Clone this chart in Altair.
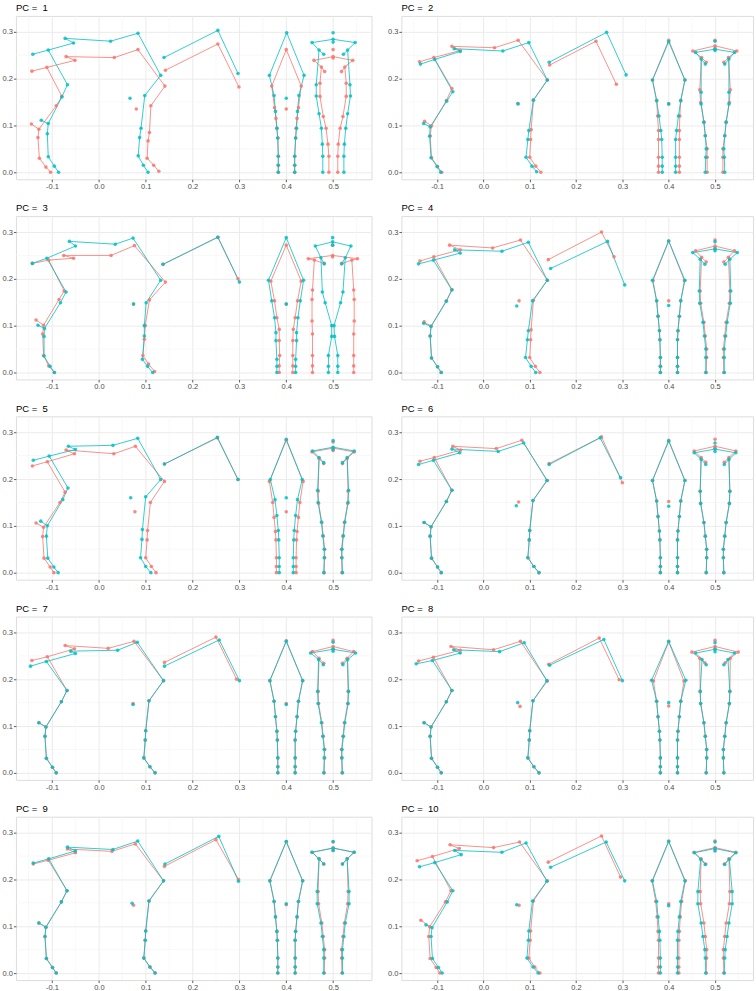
import altair as alt
import pandas as pd

RED = "#F8766D"
TEAL = "#00BFC4"

# Landmark order, side view (25 points):
# nose, neck, ear, poll, back, hip, stifle, hock, 5 hind-leg points,
# elbow, 6 fore-leg points, dewclaw, loose dot, 3 tail points
SIDE_PATHS = [
    [0, 1, 2, 3, 4, 5, 6, 7, 8, 9, 10, 11, 12],
    [1, 13, 14, 15, 16, 17, 18, 19],
    [15, 20],
    [22, 23, 24],
]
# Front view (18 points): apex, left shoulder, 7 left-leg points,
# right shoulder, 7 right-leg points, loose dot
FRONT_PATHS = [[8, 7, 6, 5, 4, 3, 2, 1, 0, 9, 10, 11, 12, 13, 14, 15, 16]]
# Rear view (23 points): top dot, apex, lower dot, left outer/mid/inner,
# right outer/mid/inner, 7 left-leg points, 7 right-leg points
REAR_PATHS = [
    [3, 1, 6],
    [3, 4, 5],
    [6, 7, 8],
    [4, 9, 10, 11, 12, 13, 14, 15],
    [7, 16, 17, 18, 19, 20, 21, 22],
]

# ---- PC 1 ----
pc1_neg_side = [-0.143, 0.216, -0.111, 0.224, -0.051, 0.239, -0.070, 0.247, 0.033, 0.245, 0.0835, 0.262,
                0.141, 0.184, 0.111, 0.142, 0.108, 0.085, 0.105, 0.067, 0.103, 0.030, 0.117, 0.015, 0.128, 0.002,
                -0.079, 0.162, -0.091, 0.142, -0.128, 0.092, -0.130, 0.074, -0.127, 0.030, -0.113, 0.011,
                -0.103, 0.0, -0.144, 0.103, 0.080, 0.135, 0.142, 0.218, 0.254, 0.274, 0.299, 0.182]
pc1_pos_side = [-0.141, 0.252, -0.108, 0.261, -0.054, 0.276, -0.072, 0.286, 0.025, 0.280, 0.0835, 0.297,
                0.132, 0.207, 0.098, 0.164, 0.090, 0.094, 0.087, 0.074, 0.084, 0.035, 0.095, 0.015, 0.105, 0.0,
                -0.067, 0.187, -0.079, 0.161, -0.108, 0.104, -0.110, 0.082, -0.108, 0.033, -0.095, 0.013,
                -0.086, 0.0, -0.123, 0.111, 0.0665, 0.158, 0.139, 0.245, 0.254, 0.303, 0.297, 0.211]
pc1_neg_front = [0.400, 0.262, 0.369, 0.184, 0.375, 0.138, 0.378, 0.115, 0.380, 0.094, 0.382, 0.073, 0.383, 0.034,
                 0.383, 0.015, 0.383, 0.0, 0.432, 0.184, 0.426, 0.138, 0.423, 0.115, 0.421, 0.094, 0.420, 0.073,
                 0.418, 0.034, 0.418, 0.015, 0.418, 0.0, 0.400, 0.135]
pc1_pos_front = [0.401, 0.298, 0.364, 0.207, 0.374, 0.164, 0.377, 0.130, 0.380, 0.094, 0.382, 0.073, 0.383, 0.034,
                 0.383, 0.015, 0.383, 0.0, 0.438, 0.207, 0.427, 0.164, 0.424, 0.130, 0.422, 0.094, 0.420, 0.073,
                 0.418, 0.034, 0.418, 0.015, 0.418, 0.0, 0.400, 0.158]
pc1_neg_rear = [0.500, 0.262, 0.500, 0.247, 0.500, 0.244, 0.459, 0.239, 0.475, 0.225, 0.482, 0.215, 0.542, 0.239,
                0.525, 0.225, 0.518, 0.215, 0.472, 0.190, 0.472, 0.162, 0.479, 0.119, 0.485, 0.094, 0.489, 0.060,
                0.491, 0.034, 0.491, 0.0, 0.528, 0.190, 0.528, 0.162, 0.521, 0.119, 0.515, 0.094, 0.511, 0.060,
                0.510, 0.034, 0.510, 0.0]
pc1_pos_rear = [0.500, 0.298, 0.500, 0.284, 0.500, 0.278, 0.455, 0.277, 0.470, 0.261, 0.480, 0.252, 0.547, 0.277,
                0.531, 0.261, 0.522, 0.252, 0.464, 0.187, 0.464, 0.163, 0.470, 0.125, 0.475, 0.094, 0.477, 0.060,
                0.478, 0.034, 0.478, 0.0, 0.536, 0.187, 0.537, 0.163, 0.531, 0.125, 0.527, 0.094, 0.524, 0.060,
                0.523, 0.034, 0.523, 0.0]

# ---- PC 2 ----
pc2_neg_side = [-0.138, 0.236, -0.107, 0.245, -0.050, 0.260, -0.068, 0.269, 0.024, 0.266, 0.075, 0.282,
                0.138, 0.197, 0.108, 0.154, 0.103, 0.091, 0.102, 0.070, 0.100, 0.032, 0.113, 0.013, 0.124, 0.0,
                -0.068, 0.179, -0.080, 0.153, -0.112, 0.099, -0.115, 0.078, -0.112, 0.031, -0.099, 0.012,
                -0.090, 0.0, -0.127, 0.109, 0.074, 0.147, 0.143, 0.229, 0.243, 0.280, 0.287, 0.188]
pc2_pos_side = [-0.136, 0.231, -0.105, 0.241, -0.050, 0.258, -0.063, 0.264, 0.042, 0.259, 0.098, 0.277,
                0.138, 0.197, 0.108, 0.154, 0.098, 0.089, 0.096, 0.070, 0.092, 0.032, 0.105, 0.013, 0.115, 0.001,
                -0.066, 0.172, -0.079, 0.152, -0.115, 0.097, -0.116, 0.077, -0.113, 0.031, -0.100, 0.012,
                -0.092, 0.0, -0.129, 0.104, 0.075, 0.146, 0.142, 0.235, 0.266, 0.299, 0.308, 0.208]
pc2_neg_front = [0.400, 0.282, 0.365, 0.197, 0.374, 0.153, 0.376, 0.120, 0.378, 0.089, 0.378, 0.070, 0.378, 0.032,
                 0.378, 0.013, 0.378, 0.0, 0.435, 0.197, 0.426, 0.153, 0.424, 0.120, 0.423, 0.089, 0.423, 0.070,
                 0.423, 0.032, 0.423, 0.013, 0.423, 0.0, 0.400, 0.146]
pc2_pos_front = [0.400, 0.279, 0.365, 0.197, 0.374, 0.153, 0.379, 0.120, 0.383, 0.089, 0.385, 0.070, 0.386, 0.032,
                 0.386, 0.013, 0.386, 0.0, 0.435, 0.197, 0.426, 0.153, 0.421, 0.120, 0.417, 0.089, 0.415, 0.070,
                 0.415, 0.032, 0.415, 0.013, 0.415, 0.0, 0.400, 0.146]
pc2_neg_rear = [0.500, 0.282, 0.500, 0.270, 0.500, 0.265, 0.452, 0.259, 0.471, 0.245, 0.481, 0.235, 0.547, 0.259,
                0.529, 0.245, 0.519, 0.235, 0.467, 0.176, 0.469, 0.149, 0.476, 0.107, 0.479, 0.078, 0.483, 0.050,
                0.483, 0.032, 0.483, 0.0, 0.533, 0.176, 0.531, 0.149, 0.524, 0.107, 0.521, 0.078, 0.517, 0.050,
                0.517, 0.032, 0.517, 0.0]
pc2_pos_rear = [0.500, 0.280, 0.500, 0.263, 0.500, 0.260, 0.458, 0.256, 0.470, 0.242, 0.479, 0.231, 0.542, 0.256,
                0.530, 0.242, 0.521, 0.231, 0.470, 0.171, 0.470, 0.146, 0.476, 0.107, 0.479, 0.078, 0.481, 0.050,
                0.480, 0.032, 0.479, 0.0, 0.530, 0.171, 0.530, 0.146, 0.524, 0.107, 0.521, 0.078, 0.519, 0.050,
                0.520, 0.032, 0.521, 0.0]

# ---- PC 3 ----
pc3_neg_side = [-0.142, 0.233, -0.107, 0.240, -0.054, 0.244, -0.075, 0.250, 0.026, 0.250, 0.076, 0.271,
                0.142, 0.193, 0.108, 0.155, 0.099, 0.100, 0.097, 0.071, 0.094, 0.036, 0.106, 0.018, 0.119, 0.002,
                -0.074, 0.174, -0.085, 0.156, -0.118, 0.101, -0.120, 0.082, -0.118, 0.036, -0.107, 0.014,
                -0.095, 0.0, -0.134, 0.112, 0.074, 0.146, 0.137, 0.231, 0.254, 0.289, 0.297, 0.200]
pc3_pos_side = [-0.142, 0.233, -0.111, 0.244, -0.050, 0.270, -0.063, 0.280, 0.035, 0.274, 0.073, 0.287,
                0.132, 0.197, 0.101, 0.149, 0.097, 0.100, 0.097, 0.078, 0.093, 0.028, 0.104, 0.013, 0.115, 0.0,
                -0.070, 0.172, -0.082, 0.149, -0.116, 0.094, -0.117, 0.077, -0.117, 0.035, -0.104, 0.013,
                -0.095, 0.0, -0.130, 0.101, 0.074, 0.146, 0.137, 0.231, 0.254, 0.289, 0.300, 0.193]
pc3_neg_front = [0.400, 0.272, 0.367, 0.195, 0.375, 0.153, 0.380, 0.117, 0.385, 0.092, 0.385, 0.068, 0.386, 0.036,
                 0.385, 0.014, 0.385, 0.0, 0.432, 0.195, 0.424, 0.153, 0.419, 0.117, 0.415, 0.092, 0.414, 0.068,
                 0.414, 0.036, 0.414, 0.014, 0.414, 0.0, 0.400, 0.146]
pc3_pos_front = [0.400, 0.288, 0.362, 0.197, 0.369, 0.153, 0.375, 0.117, 0.378, 0.085, 0.378, 0.068, 0.380, 0.028,
                 0.380, 0.013, 0.380, 0.0, 0.437, 0.197, 0.430, 0.153, 0.425, 0.117, 0.422, 0.085, 0.422, 0.068,
                 0.420, 0.028, 0.420, 0.013, 0.420, 0.0, 0.400, 0.146]
pc3_neg_rear = [0.499, 0.272, 0.499, 0.250, 0.499, 0.247, 0.447, 0.243, 0.460, 0.240, 0.481, 0.233, 0.552, 0.243,
                0.540, 0.240, 0.519, 0.233, 0.456, 0.176, 0.455, 0.156, 0.455, 0.110, 0.456, 0.082, 0.456, 0.036,
                0.456, 0.014, 0.456, 0.0, 0.544, 0.176, 0.545, 0.156, 0.545, 0.110, 0.544, 0.082, 0.544, 0.036,
                0.544, 0.014, 0.544, 0.0]
pc3_pos_rear = [0.499, 0.288, 0.499, 0.279, 0.499, 0.272, 0.462, 0.270, 0.474, 0.245, 0.481, 0.232, 0.538, 0.270,
                0.526, 0.245, 0.518, 0.232, 0.477, 0.172, 0.483, 0.149, 0.497, 0.100, 0.497, 0.077, 0.490, 0.036,
                0.490, 0.013, 0.490, 0.0, 0.521, 0.172, 0.516, 0.149, 0.502, 0.100, 0.503, 0.077, 0.510, 0.036,
                0.510, 0.013, 0.510, 0.0]

# ---- PC 4 ----
pc4_neg_side = [-0.137, 0.238, -0.107, 0.247, -0.050, 0.262, -0.073, 0.272, 0.020, 0.266, 0.080, 0.283,
                0.138, 0.197, 0.108, 0.154, 0.103, 0.091, 0.102, 0.070, 0.100, 0.032, 0.112, 0.013, 0.122, 0.0,
                -0.068, 0.177, -0.080, 0.153, -0.113, 0.099, -0.115, 0.078, -0.112, 0.031, -0.099, 0.012,
                -0.091, 0.0, -0.128, 0.108, 0.077, 0.153, 0.140, 0.241, 0.255, 0.300, 0.282, 0.247]
pc4_pos_side = [-0.140, 0.232, -0.108, 0.240, -0.050, 0.255, -0.062, 0.262, 0.040, 0.259, 0.097, 0.278,
                0.138, 0.197, 0.106, 0.153, 0.097, 0.089, 0.095, 0.070, 0.091, 0.032, 0.103, 0.013, 0.113, 0.0,
                -0.068, 0.176, -0.080, 0.152, -0.113, 0.098, -0.115, 0.078, -0.112, 0.031, -0.099, 0.012,
                -0.091, 0.0, -0.129, 0.105, 0.072, 0.142, 0.145, 0.222, 0.268, 0.280, 0.305, 0.187]
pc4_neg_front = [0.400, 0.281, 0.366, 0.196, 0.374, 0.153, 0.377, 0.120, 0.380, 0.089, 0.381, 0.070, 0.382, 0.032,
                 0.382, 0.013, 0.382, 0.0, 0.434, 0.196, 0.426, 0.153, 0.423, 0.120, 0.420, 0.089, 0.419, 0.070,
                 0.419, 0.032, 0.419, 0.013, 0.419, 0.0, 0.400, 0.153]
pc4_pos_front = [0.400, 0.281, 0.365, 0.197, 0.374, 0.153, 0.377, 0.120, 0.380, 0.089, 0.381, 0.070, 0.382, 0.032,
                 0.382, 0.013, 0.382, 0.0, 0.435, 0.197, 0.426, 0.153, 0.423, 0.120, 0.420, 0.089, 0.419, 0.070,
                 0.419, 0.032, 0.419, 0.013, 0.419, 0.0, 0.400, 0.143]
pc4_neg_rear = [0.500, 0.283, 0.500, 0.270, 0.500, 0.265, 0.458, 0.260, 0.471, 0.246, 0.481, 0.236, 0.542, 0.260,
                0.529, 0.246, 0.519, 0.236, 0.468, 0.174, 0.469, 0.148, 0.476, 0.107, 0.479, 0.078, 0.482, 0.050,
                0.482, 0.032, 0.481, 0.0, 0.532, 0.174, 0.531, 0.148, 0.524, 0.107, 0.521, 0.078, 0.518, 0.050,
                0.518, 0.032, 0.519, 0.0]
pc4_pos_rear = [0.500, 0.279, 0.500, 0.264, 0.500, 0.260, 0.452, 0.256, 0.468, 0.242, 0.478, 0.231, 0.548, 0.256,
                0.532, 0.242, 0.522, 0.231, 0.466, 0.174, 0.467, 0.148, 0.474, 0.107, 0.477, 0.078, 0.480, 0.050,
                0.480, 0.032, 0.480, 0.0, 0.534, 0.174, 0.533, 0.148, 0.526, 0.107, 0.523, 0.078, 0.520, 0.050,
                0.520, 0.032, 0.520, 0.0]

# ---- PC 5 ----
pc5_neg_side = [-0.142, 0.228, -0.110, 0.237, -0.052, 0.254, -0.070, 0.262, 0.032, 0.254, 0.078, 0.270,
                0.140, 0.195, 0.110, 0.150, 0.104, 0.090, 0.103, 0.070, 0.100, 0.032, 0.112, 0.013, 0.122, 0.0,
                -0.072, 0.172, -0.083, 0.150, -0.118, 0.097, -0.120, 0.077, -0.117, 0.031, -0.104, 0.012,
                -0.096, 0.0, -0.134, 0.106, 0.077, 0.130, 0.140, 0.232, 0.253, 0.288, 0.297, 0.199]
pc5_pos_side = [-0.140, 0.240, -0.106, 0.249, -0.050, 0.263, -0.065, 0.270, 0.030, 0.272, 0.083, 0.287,
                0.132, 0.199, 0.100, 0.162, 0.093, 0.092, 0.092, 0.071, 0.089, 0.032, 0.100, 0.013, 0.111, 0.0,
                -0.066, 0.181, -0.077, 0.156, -0.110, 0.100, -0.112, 0.078, -0.109, 0.031, -0.096, 0.012,
                -0.087, 0.0, -0.124, 0.110, 0.068, 0.160, 0.140, 0.232, 0.253, 0.289, 0.297, 0.199]
pc5_neg_front = [0.400, 0.283, 0.364, 0.195, 0.371, 0.150, 0.374, 0.118, 0.377, 0.088, 0.378, 0.070, 0.379, 0.032,
                 0.379, 0.013, 0.379, 0.0, 0.436, 0.195, 0.429, 0.150, 0.426, 0.118, 0.423, 0.088, 0.422, 0.070,
                 0.421, 0.032, 0.421, 0.013, 0.421, 0.0, 0.400, 0.130]
pc5_pos_front = [0.400, 0.285, 0.366, 0.199, 0.376, 0.156, 0.380, 0.122, 0.383, 0.090, 0.384, 0.070, 0.385, 0.032,
                 0.385, 0.013, 0.385, 0.0, 0.434, 0.199, 0.424, 0.156, 0.420, 0.122, 0.417, 0.090, 0.416, 0.070,
                 0.415, 0.032, 0.415, 0.013, 0.415, 0.0, 0.400, 0.160]
pc5_neg_rear = [0.500, 0.279, 0.500, 0.266, 0.500, 0.261, 0.455, 0.258, 0.470, 0.244, 0.480, 0.233, 0.545, 0.258,
                0.530, 0.244, 0.520, 0.233, 0.468, 0.174, 0.469, 0.148, 0.476, 0.107, 0.479, 0.078, 0.482, 0.050,
                0.482, 0.032, 0.481, 0.0, 0.532, 0.174, 0.531, 0.148, 0.524, 0.107, 0.521, 0.078, 0.518, 0.050,
                0.518, 0.032, 0.519, 0.0]
pc5_pos_rear = [0.500, 0.282, 0.500, 0.268, 0.500, 0.263, 0.456, 0.260, 0.470, 0.246, 0.480, 0.235, 0.545, 0.260,
                0.530, 0.246, 0.520, 0.235, 0.467, 0.176, 0.468, 0.150, 0.475, 0.108, 0.478, 0.079, 0.481, 0.050,
                0.481, 0.032, 0.480, 0.0, 0.533, 0.176, 0.532, 0.150, 0.525, 0.108, 0.522, 0.079, 0.519, 0.050,
                0.519, 0.032, 0.520, 0.0]

# ---- PC 6 ----
pc6_neg_side = [-0.137, 0.238, -0.106, 0.246, -0.049, 0.262, -0.066, 0.270, 0.028, 0.265, 0.083, 0.283,
                0.138, 0.197, 0.107, 0.154, 0.100, 0.090, 0.099, 0.070, 0.096, 0.032, 0.109, 0.013, 0.120, 0.0,
                -0.068, 0.176, -0.080, 0.152, -0.113, 0.098, -0.115, 0.078, -0.112, 0.031, -0.099, 0.012,
                -0.091, 0.0, -0.128, 0.107, 0.076, 0.151, 0.142, 0.233, 0.255, 0.290, 0.300, 0.192]
pc6_pos_side = [-0.140, 0.231, -0.108, 0.240, -0.051, 0.256, -0.068, 0.264, 0.032, 0.259, 0.087, 0.277,
                0.137, 0.197, 0.107, 0.154, 0.100, 0.090, 0.099, 0.070, 0.096, 0.032, 0.109, 0.013, 0.120, 0.0,
                -0.068, 0.176, -0.080, 0.152, -0.113, 0.098, -0.115, 0.078, -0.112, 0.031, -0.099, 0.012,
                -0.091, 0.0, -0.128, 0.107, 0.071, 0.143, 0.142, 0.231, 0.252, 0.288, 0.296, 0.203]
pc6_neg_front = [0.400, 0.283, 0.365, 0.197, 0.374, 0.153, 0.377, 0.120, 0.380, 0.089, 0.381, 0.070, 0.382, 0.032,
                 0.382, 0.013, 0.382, 0.0, 0.435, 0.197, 0.426, 0.153, 0.423, 0.120, 0.420, 0.089, 0.419, 0.070,
                 0.419, 0.032, 0.419, 0.013, 0.419, 0.0, 0.400, 0.152]
pc6_pos_front = [0.400, 0.281, 0.365, 0.197, 0.374, 0.153, 0.377, 0.120, 0.380, 0.089, 0.381, 0.070, 0.382, 0.032,
                 0.382, 0.013, 0.382, 0.0, 0.435, 0.197, 0.426, 0.153, 0.423, 0.120, 0.420, 0.089, 0.419, 0.070,
                 0.419, 0.032, 0.419, 0.013, 0.419, 0.0, 0.400, 0.142]
pc6_neg_rear = [0.500, 0.285, 0.500, 0.270, 0.500, 0.266, 0.455, 0.260, 0.470, 0.246, 0.480, 0.236, 0.545, 0.260,
                0.530, 0.246, 0.520, 0.236, 0.468, 0.174, 0.469, 0.148, 0.476, 0.107, 0.479, 0.078, 0.482, 0.050,
                0.482, 0.032, 0.481, 0.0, 0.532, 0.174, 0.531, 0.148, 0.524, 0.107, 0.521, 0.078, 0.518, 0.050,
                0.518, 0.032, 0.519, 0.0]
pc6_pos_rear = [0.500, 0.277, 0.500, 0.264, 0.500, 0.259, 0.455, 0.256, 0.470, 0.242, 0.480, 0.231, 0.545, 0.256,
                0.530, 0.242, 0.520, 0.231, 0.468, 0.174, 0.469, 0.148, 0.476, 0.107, 0.479, 0.078, 0.482, 0.050,
                0.482, 0.032, 0.481, 0.0, 0.532, 0.174, 0.531, 0.148, 0.524, 0.107, 0.521, 0.078, 0.518, 0.050,
                0.518, 0.032, 0.519, 0.0]

# ---- PC 7 ----
pc7_neg_side = [-0.143, 0.240, -0.110, 0.248, -0.052, 0.265, -0.072, 0.272, 0.020, 0.266, 0.075, 0.281,
                0.138, 0.197, 0.107, 0.154, 0.100, 0.090, 0.099, 0.070, 0.096, 0.032, 0.109, 0.013, 0.120, 0.0,
                -0.068, 0.176, -0.080, 0.152, -0.113, 0.098, -0.115, 0.078, -0.112, 0.031, -0.099, 0.012,
                -0.091, 0.0, -0.128, 0.107, 0.073, 0.148, 0.140, 0.236, 0.250, 0.290, 0.294, 0.200]
pc7_pos_side = [-0.146, 0.228, -0.112, 0.238, -0.050, 0.255, -0.060, 0.260, 0.040, 0.262, 0.082, 0.279,
                0.138, 0.197, 0.107, 0.154, 0.100, 0.090, 0.099, 0.070, 0.096, 0.032, 0.109, 0.013, 0.120, 0.0,
                -0.068, 0.176, -0.080, 0.152, -0.113, 0.098, -0.115, 0.078, -0.112, 0.031, -0.099, 0.012,
                -0.091, 0.0, -0.128, 0.107, 0.073, 0.146, 0.140, 0.228, 0.257, 0.284, 0.300, 0.197]
pc7_neg_front = [0.400, 0.282, 0.365, 0.197, 0.374, 0.153, 0.377, 0.120, 0.380, 0.089, 0.381, 0.070, 0.382, 0.032,
                 0.382, 0.013, 0.382, 0.0, 0.435, 0.197, 0.426, 0.153, 0.423, 0.120, 0.420, 0.089, 0.419, 0.070,
                 0.419, 0.032, 0.419, 0.013, 0.419, 0.0, 0.400, 0.148]
pc7_pos_front = [0.400, 0.281, 0.365, 0.197, 0.374, 0.153, 0.377, 0.120, 0.380, 0.089, 0.381, 0.070, 0.382, 0.032,
                 0.382, 0.013, 0.382, 0.0, 0.435, 0.197, 0.426, 0.153, 0.423, 0.120, 0.420, 0.089, 0.419, 0.070,
                 0.419, 0.032, 0.419, 0.013, 0.419, 0.0, 0.400, 0.146]
pc7_neg_rear = [0.500, 0.283, 0.500, 0.270, 0.500, 0.265, 0.456, 0.259, 0.470, 0.245, 0.480, 0.234, 0.544, 0.259,
                0.530, 0.245, 0.520, 0.234, 0.468, 0.174, 0.469, 0.148, 0.476, 0.107, 0.479, 0.078, 0.482, 0.050,
                0.482, 0.032, 0.481, 0.0, 0.532, 0.174, 0.531, 0.148, 0.524, 0.107, 0.521, 0.078, 0.518, 0.050,
                0.518, 0.032, 0.519, 0.0]
pc7_pos_rear = [0.500, 0.279, 0.500, 0.264, 0.500, 0.260, 0.452, 0.256, 0.469, 0.242, 0.479, 0.231, 0.548, 0.256,
                0.531, 0.242, 0.521, 0.231, 0.467, 0.174, 0.468, 0.148, 0.475, 0.107, 0.478, 0.078, 0.481, 0.050,
                0.481, 0.032, 0.480, 0.0, 0.533, 0.174, 0.532, 0.148, 0.525, 0.107, 0.522, 0.078, 0.519, 0.050,
                0.519, 0.032, 0.520, 0.0]

# ---- PC 8 ----
pc8_neg_side = [-0.140, 0.239, -0.108, 0.247, -0.050, 0.262, -0.070, 0.270, 0.022, 0.263, 0.080, 0.281,
                0.138, 0.196, 0.107, 0.154, 0.100, 0.090, 0.099, 0.070, 0.096, 0.032, 0.109, 0.013, 0.120, 0.0,
                -0.068, 0.176, -0.080, 0.152, -0.113, 0.098, -0.115, 0.078, -0.112, 0.031, -0.099, 0.012,
                -0.091, 0.0, -0.128, 0.107, 0.079, 0.142, 0.141, 0.232, 0.250, 0.288, 0.293, 0.199]
pc8_pos_side = [-0.145, 0.233, -0.110, 0.240, -0.050, 0.256, -0.064, 0.263, 0.035, 0.259, 0.088, 0.278,
                0.137, 0.197, 0.107, 0.154, 0.100, 0.090, 0.099, 0.070, 0.096, 0.032, 0.109, 0.013, 0.120, 0.0,
                -0.068, 0.176, -0.080, 0.152, -0.113, 0.098, -0.115, 0.078, -0.112, 0.031, -0.099, 0.012,
                -0.091, 0.0, -0.128, 0.107, 0.074, 0.150, 0.143, 0.230, 0.260, 0.285, 0.300, 0.197]
pc8_neg_front = [0.400, 0.280, 0.367, 0.196, 0.374, 0.153, 0.377, 0.120, 0.380, 0.089, 0.381, 0.070, 0.382, 0.032,
                 0.382, 0.013, 0.382, 0.0, 0.433, 0.196, 0.426, 0.153, 0.423, 0.120, 0.420, 0.089, 0.419, 0.070,
                 0.419, 0.032, 0.419, 0.013, 0.419, 0.0, 0.400, 0.143]
pc8_pos_front = [0.400, 0.281, 0.363, 0.198, 0.374, 0.153, 0.377, 0.120, 0.380, 0.089, 0.381, 0.070, 0.382, 0.032,
                 0.382, 0.013, 0.382, 0.0, 0.437, 0.198, 0.426, 0.153, 0.423, 0.120, 0.420, 0.089, 0.419, 0.070,
                 0.419, 0.032, 0.419, 0.013, 0.419, 0.0, 0.400, 0.150]
pc8_neg_rear = [0.500, 0.283, 0.500, 0.270, 0.500, 0.265, 0.450, 0.258, 0.467, 0.245, 0.478, 0.235, 0.550, 0.258,
                0.533, 0.245, 0.522, 0.235, 0.468, 0.174, 0.469, 0.148, 0.476, 0.107, 0.479, 0.078, 0.482, 0.050,
                0.482, 0.032, 0.481, 0.0, 0.532, 0.174, 0.531, 0.148, 0.524, 0.107, 0.521, 0.078, 0.518, 0.050,
                0.518, 0.032, 0.519, 0.0]
pc8_pos_rear = [0.500, 0.278, 0.500, 0.264, 0.500, 0.259, 0.458, 0.256, 0.472, 0.242, 0.481, 0.231, 0.542, 0.256,
                0.528, 0.242, 0.519, 0.231, 0.468, 0.174, 0.469, 0.148, 0.476, 0.107, 0.479, 0.078, 0.482, 0.050,
                0.482, 0.032, 0.481, 0.0, 0.532, 0.174, 0.531, 0.148, 0.524, 0.107, 0.521, 0.078, 0.518, 0.050,
                0.518, 0.032, 0.519, 0.0]

# ---- PC 9 ----
pc9_neg_side = [-0.140, 0.233, -0.108, 0.241, -0.050, 0.257, -0.067, 0.265, 0.028, 0.260, 0.078, 0.276,
                0.138, 0.197, 0.107, 0.154, 0.100, 0.090, 0.099, 0.070, 0.096, 0.032, 0.109, 0.013, 0.120, 0.0,
                -0.068, 0.176, -0.080, 0.152, -0.113, 0.098, -0.115, 0.078, -0.112, 0.031, -0.099, 0.012,
                -0.091, 0.0, -0.128, 0.107, 0.074, 0.145, 0.140, 0.228, 0.250, 0.285, 0.298, 0.200]
pc9_pos_side = [-0.140, 0.235, -0.107, 0.244, -0.050, 0.261, -0.067, 0.269, 0.030, 0.264, 0.083, 0.282,
                0.138, 0.197, 0.107, 0.154, 0.100, 0.090, 0.099, 0.070, 0.096, 0.032, 0.109, 0.013, 0.120, 0.0,
                -0.068, 0.176, -0.080, 0.152, -0.113, 0.098, -0.115, 0.078, -0.112, 0.031, -0.099, 0.012,
                -0.091, 0.0, -0.128, 0.107, 0.071, 0.149, 0.141, 0.233, 0.256, 0.292, 0.298, 0.196]
pc9_neg_front = [0.400, 0.281, 0.365, 0.197, 0.374, 0.153, 0.377, 0.120, 0.380, 0.089, 0.381, 0.070, 0.382, 0.032,
                 0.382, 0.013, 0.382, 0.0, 0.435, 0.197, 0.426, 0.153, 0.423, 0.120, 0.420, 0.089, 0.419, 0.070,
                 0.419, 0.032, 0.419, 0.013, 0.419, 0.0, 0.400, 0.146]
pc9_pos_front = [0.400, 0.281, 0.365, 0.197, 0.374, 0.153, 0.377, 0.120, 0.380, 0.089, 0.381, 0.070, 0.382, 0.032,
                 0.382, 0.013, 0.382, 0.0, 0.435, 0.197, 0.426, 0.153, 0.423, 0.120, 0.420, 0.089, 0.419, 0.070,
                 0.419, 0.032, 0.419, 0.013, 0.419, 0.0, 0.400, 0.148]
pc9_neg_rear = [0.500, 0.280, 0.500, 0.267, 0.500, 0.262, 0.455, 0.258, 0.470, 0.244, 0.480, 0.233, 0.545, 0.258,
                0.530, 0.244, 0.520, 0.233, 0.468, 0.174, 0.469, 0.148, 0.476, 0.107, 0.479, 0.078, 0.482, 0.050,
                0.482, 0.032, 0.481, 0.0, 0.532, 0.174, 0.531, 0.148, 0.524, 0.107, 0.521, 0.078, 0.518, 0.050,
                0.518, 0.032, 0.519, 0.0]
pc9_pos_rear = [0.500, 0.281, 0.500, 0.267, 0.500, 0.262, 0.455, 0.258, 0.470, 0.244, 0.480, 0.233, 0.545, 0.258,
                0.530, 0.244, 0.520, 0.233, 0.466, 0.174, 0.466, 0.148, 0.474, 0.107, 0.477, 0.078, 0.480, 0.050,
                0.480, 0.032, 0.480, 0.0, 0.534, 0.174, 0.534, 0.148, 0.526, 0.107, 0.523, 0.078, 0.520, 0.050,
                0.520, 0.032, 0.520, 0.0]

# ---- PC 10 ----
pc10_neg_side = [-0.143, 0.240, -0.110, 0.249, -0.052, 0.266, -0.072, 0.274, 0.022, 0.268, 0.078, 0.280,
                 0.138, 0.197, 0.108, 0.154, 0.102, 0.090, 0.101, 0.070, 0.098, 0.032, 0.111, 0.013, 0.122, 0.0,
                 -0.070, 0.176, -0.082, 0.152, -0.116, 0.099, -0.118, 0.078, -0.115, 0.031, -0.102, 0.012,
                 -0.094, 0.0, -0.135, 0.113, 0.077, 0.145, 0.140, 0.237, 0.255, 0.293, 0.296, 0.205]
pc10_pos_side = [-0.138, 0.227, -0.105, 0.236, -0.048, 0.253, -0.062, 0.262, 0.040, 0.258, 0.092, 0.278,
                 0.137, 0.196, 0.106, 0.154, 0.098, 0.090, 0.097, 0.070, 0.094, 0.032, 0.107, 0.013, 0.118, 0.0,
                 -0.066, 0.176, -0.078, 0.152, -0.111, 0.097, -0.113, 0.078, -0.110, 0.031, -0.097, 0.012,
                 -0.089, 0.0, -0.124, 0.103, 0.072, 0.146, 0.145, 0.226, 0.265, 0.280, 0.305, 0.197]
pc10_neg_front = [0.400, 0.282, 0.364, 0.197, 0.372, 0.153, 0.375, 0.120, 0.377, 0.089, 0.378, 0.070, 0.378, 0.032,
                  0.378, 0.013, 0.378, 0.0, 0.436, 0.197, 0.428, 0.153, 0.425, 0.120, 0.423, 0.089, 0.422, 0.070,
                  0.422, 0.032, 0.422, 0.013, 0.422, 0.0, 0.400, 0.148]
pc10_pos_front = [0.400, 0.281, 0.365, 0.197, 0.374, 0.153, 0.377, 0.120, 0.380, 0.089, 0.381, 0.070, 0.382, 0.032,
                  0.382, 0.013, 0.382, 0.0, 0.435, 0.197, 0.426, 0.153, 0.423, 0.120, 0.420, 0.089, 0.419, 0.070,
                  0.419, 0.032, 0.419, 0.013, 0.419, 0.0, 0.400, 0.144]
pc10_neg_rear = [0.500, 0.282, 0.500, 0.268, 0.500, 0.263, 0.455, 0.258, 0.470, 0.244, 0.480, 0.233, 0.545, 0.258,
                 0.530, 0.244, 0.520, 0.233, 0.468, 0.174, 0.469, 0.148, 0.476, 0.107, 0.479, 0.078, 0.482, 0.050,
                 0.482, 0.032, 0.481, 0.0, 0.532, 0.174, 0.531, 0.148, 0.524, 0.107, 0.521, 0.078, 0.518, 0.050,
                 0.518, 0.032, 0.519, 0.0]
pc10_pos_rear = [0.500, 0.280, 0.500, 0.266, 0.500, 0.261, 0.455, 0.257, 0.469, 0.243, 0.479, 0.232, 0.545, 0.257,
                 0.531, 0.243, 0.521, 0.232, 0.463, 0.174, 0.463, 0.148, 0.470, 0.107, 0.474, 0.078, 0.478, 0.050,
                 0.479, 0.032, 0.480, 0.0, 0.537, 0.174, 0.537, 0.148, 0.530, 0.107, 0.526, 0.078, 0.522, 0.050,
                 0.521, 0.032, 0.520, 0.0]

SHAPES = {
    1: {"neg": (pc1_neg_side, pc1_neg_front, pc1_neg_rear), "pos": (pc1_pos_side, pc1_pos_front, pc1_pos_rear)},
    2: {"neg": (pc2_neg_side, pc2_neg_front, pc2_neg_rear), "pos": (pc2_pos_side, pc2_pos_front, pc2_pos_rear)},
    3: {"neg": (pc3_neg_side, pc3_neg_front, pc3_neg_rear), "pos": (pc3_pos_side, pc3_pos_front, pc3_pos_rear)},
    4: {"neg": (pc4_neg_side, pc4_neg_front, pc4_neg_rear), "pos": (pc4_pos_side, pc4_pos_front, pc4_pos_rear)},
    5: {"neg": (pc5_neg_side, pc5_neg_front, pc5_neg_rear), "pos": (pc5_pos_side, pc5_pos_front, pc5_pos_rear)},
    6: {"neg": (pc6_neg_side, pc6_neg_front, pc6_neg_rear), "pos": (pc6_pos_side, pc6_pos_front, pc6_pos_rear)},
    7: {"neg": (pc7_neg_side, pc7_neg_front, pc7_neg_rear), "pos": (pc7_pos_side, pc7_pos_front, pc7_pos_rear)},
    8: {"neg": (pc8_neg_side, pc8_neg_front, pc8_neg_rear), "pos": (pc8_pos_side, pc8_pos_front, pc8_pos_rear)},
    9: {"neg": (pc9_neg_side, pc9_neg_front, pc9_neg_rear), "pos": (pc9_pos_side, pc9_pos_front, pc9_pos_rear)},
    10: {"neg": (pc10_neg_side, pc10_neg_front, pc10_neg_rear),
         "pos": (pc10_pos_side, pc10_pos_front, pc10_pos_rear)},
}

X_TICKS = [-0.1, 0.0, 0.1, 0.2, 0.3, 0.4, 0.5]
Y_TICKS = [0.0, 0.1, 0.2, 0.3]
X_MINOR = [-0.15, -0.05, 0.05, 0.15, 0.25, 0.35, 0.45, 0.55]
Y_MINOR = [0.05, 0.15, 0.25]

pt_rows, ln_rows = [], []
for pc, groups in SHAPES.items():
    for grp, parts in groups.items():
        for name, flat, paths in zip(("side", "front", "rear"), parts, (SIDE_PATHS, FRONT_PATHS, REAR_PATHS)):
            pts = list(zip(flat[0::2], flat[1::2]))
            for x, y in pts:
                pt_rows.append({"pc": pc, "grp": grp, "x": x, "y": y})
            for k, path in enumerate(paths):
                for o, idx in enumerate(path):
                    ln_rows.append({"pc": pc, "grp": grp, "key": f"{grp}-{name}-{k}", "o": o,
                                    "x": pts[idx][0], "y": pts[idx][1]})
pts_df = pd.DataFrame(pt_rows)
lns_df = pd.DataFrame(ln_rows)
xminor_df = pd.DataFrame({"v": X_MINOR})
yminor_df = pd.DataFrame({"v": Y_MINOR})

xs = alt.Scale(domain=[-0.177, 0.582], nice=False, zero=False)
ys = alt.Scale(domain=[-0.015, 0.334], nice=False, zero=False)
lab = "replace(format(datum.value, '.1f'), '\u2212', '-')"
x_axis = alt.Axis(values=X_TICKS, labelExpr=lab, title=None, grid=True, gridColor="#EBEBEB", gridWidth=1,
                  domain=False, ticks=True, tickColor="#333333", tickSize=2.5, tickWidth=0.8,
                  labelFontSize=7.5, labelColor="#4D4D4D", labelPadding=1, labelFont="Liberation Sans")
y_axis = alt.Axis(values=Y_TICKS, labelExpr=lab, title=None, grid=True, gridColor="#EBEBEB", gridWidth=1,
                  domain=False, ticks=True, tickColor="#333333", tickSize=2.5, tickWidth=0.8,
                  labelFontSize=7.5, labelColor="#4D4D4D", labelPadding=1, labelFont="Liberation Sans")
cscale = alt.Scale(domain=["neg", "pos"], range=[RED, TEAL])


def panel(pc, width):
    xm = alt.Chart(xminor_df).mark_rule(color="#F3F3F3", strokeWidth=0.6).encode(
        x=alt.X("v:Q", scale=xs, axis=x_axis))
    ym = alt.Chart(yminor_df).mark_rule(color="#F3F3F3", strokeWidth=0.6).encode(
        y=alt.Y("v:Q", scale=ys, axis=y_axis))
    lines = alt.Chart(lns_df[lns_df.pc == pc]).mark_line(strokeWidth=1, opacity=0.8).encode(
        x=alt.X("x:Q", scale=xs, axis=x_axis),
        y=alt.Y("y:Q", scale=ys, axis=y_axis),
        color=alt.Color("grp:N", scale=cscale, legend=None),
        detail="key:N",
        order="o:Q",
    )
    dots = alt.Chart(pts_df[pts_df.pc == pc]).mark_circle(size=13, opacity=0.85).encode(
        x=alt.X("x:Q", scale=xs, axis=x_axis),
        y=alt.Y("y:Q", scale=ys, axis=y_axis),
        color=alt.Color("grp:N", scale=cscale, legend=None),
    )
    return alt.layer(xm, ym, lines, dots).properties(
        width=width, height=164,
        title=alt.TitleParams(f"PC = \u00a0{pc}", anchor="start", frame="group", fontSize=9.5,
                              fontWeight="normal", font="Liberation Sans", color="#000000", offset=3),
    )


rows = [alt.hconcat(panel(2 * r + 1, 357), panel(2 * r + 2, 353), spacing=14) for r in range(5)]
chart = alt.vconcat(*rows, spacing=11).properties(padding={"left": 1, "top": 0, "right": 2, "bottom": 0}).configure_view(
    stroke="#4D4D4D", strokeWidth=1).configure(background="white")

chart.save("out.html", embed_options={"renderer": "svg", "actions": False})
